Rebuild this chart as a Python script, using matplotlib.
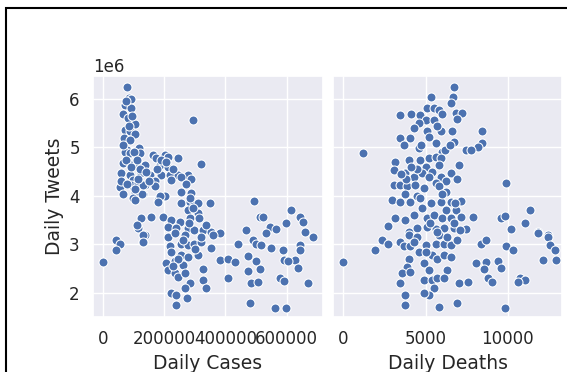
import matplotlib
matplotlib.use("Agg")
import matplotlib.pyplot as plt
import numpy as np
import seaborn as sns
from matplotlib.patches import Rectangle

# daily cases vs daily tweets (tweets in millions)
cases = [
    78400, 83900, 90400, 70800, 92600, 65300, 81700, 103500, 70800, 87000,
    103500, 68600, 87000, 117600, 79500, 294000, 163400, 201500,
    70800, 87000, 119800, 163400, 174000, 212000, 245000, 65300, 92600, 114400,
    136000, 185000, 212000, 321000, 60000, 87000, 125000, 152500, 190600, 218000,
    245000, 278000, 98000, 169000, 223000, 289000, 54500, 92600, 114400, 136000,
    169000, 103500, 130700, 201500, 180000, 256000, 289000, 256000, 283000, 299000,
    310000, 348500, 278000, 310000, 495000, 125000, 158000, 196000, 223000, 250500,
    283000, 114400, 212000, 240000, 278000, 299000, 327000, 354000, 381000, 512000,
    523000, 615000, 642500, 653500, 599000, 544500, 566000, 468000, 659000,
    136000, 212000, 234000, 267000, 359000, 534000, 686000,
    43600, 54500, 43600, 130700, 218000, 256000, 278000, 299000, 321000, 223000,
    256000, 278000, 310000, 354000, 441000, 490000, 501000, 517000, 550000, 588000,
    642500, 642500, 0, 207000, 234000, 261000, 212000, 234000, 245000, 267000,
    327000, 327000, 338000, 283000, 267000, 381000, 408000, 430000, 474000, 501000,
    512000, 474000, 408000, 485000, 506000, 593000, 626000, 604000, 637000, 577000,
    593000, 670000, 223000, 240000, 276000, 240000, 482000, 561000, 599000,
    55500, 66400, 99000, 104500, 126000, 131700, 186000, 180000, 110000, 131700,
    129500, 75000, 95000, 85000, 65000, 100000, 110000, 75000, 90000, 120000,
    60000, 80000, 105000, 115000, 140000, 150000, 175000, 190000, 205000, 230000,
    255000, 270000, 285000, 295000, 315000, 280000, 260000, 300000, 245000, 230000,
    320000, 335000,
]
cases_tweets = [
    6.24, 6.03, 6.01, 5.88, 5.81, 5.70, 5.60, 5.48, 5.36, 5.33,
    5.28, 5.19, 5.15, 4.98, 4.95, 5.57, 4.85, 4.85,
    4.91, 4.88, 4.88, 4.85, 4.78, 4.80, 4.78, 4.67, 4.64, 4.67,
    4.64, 4.64, 4.60, 4.66, 4.47, 4.43, 4.47, 4.43, 4.43, 4.43,
    4.43, 4.43, 4.33, 4.30, 4.33, 4.36, 4.18, 4.23, 4.26, 4.23,
    4.21, 4.09, 4.05, 3.99, 3.92, 4.09, 4.07, 3.86, 3.88, 3.85,
    3.85, 3.86, 3.71, 3.64, 3.90, 3.54, 3.57, 3.57, 3.50, 3.47,
    3.54, 3.33, 3.37, 3.33, 3.33, 3.30, 3.30, 3.26, 3.24, 3.57,
    3.57, 3.71, 3.57, 3.47, 3.44, 3.37, 3.31, 3.30, 3.26,
    3.19, 3.16, 3.23, 3.20, 3.20, 3.23, 3.16,
    3.09, 3.02, 2.89, 3.06, 2.96, 3.02, 2.99, 3.02, 3.06, 2.85,
    2.78, 2.75, 2.78, 2.92, 3.02, 3.09, 3.02, 2.99, 2.92, 2.89,
    2.99, 2.89, 2.63, 2.61, 2.65, 2.58, 2.47, 2.41, 2.34, 2.41,
    2.49, 2.27, 2.10, 2.20, 2.10, 2.69, 2.71, 2.63, 2.76, 2.65,
    2.49, 2.46, 2.30, 2.21, 2.23, 2.69, 2.69, 2.65, 2.51, 2.30,
    2.25, 2.21, 1.99, 1.96, 1.90, 1.75, 1.79, 1.70, 1.70,
    4.19, 4.05, 3.95, 3.92, 4.05, 4.23, 3.99, 3.88, 3.40, 3.20,
    3.06, 5.95, 5.65, 5.45, 5.05, 4.90, 4.75, 4.75, 4.60, 4.55,
    4.30, 4.25, 4.15, 4.35, 4.50, 4.30, 4.55, 4.75, 4.70, 4.55,
    4.40, 4.25, 3.95, 3.75, 3.55, 3.45, 3.10, 2.90, 2.70, 2.55,
    3.15, 3.40,
]

# daily deaths vs daily tweets (tweets in millions)
deaths = [
    6732, 6670, 5304, 6528, 5100, 5508, 5814, 6018, 6875, 7242,
    3468, 4141, 4692, 5000, 5508, 6936, 4590, 4284, 5100, 5916,
    6630, 8425, 5202, 5610, 6732, 3468, 4080, 3672, 4590, 8425,
    8160, 7446, 7752, 6018,
    1224, 3162, 3978, 4692, 5202, 5610, 5916, 5000, 5814, 3060,
    3774, 4284, 4794, 5406, 5916, 6528, 7038, 6936, 3060, 3468,
    3876, 4386, 4896, 5610, 6222, 9894, 3774, 4488, 6222, 2958,
    3468, 4080, 4692, 5304, 5916, 6528, 7140, 6222, 6834, 3162,
    3774, 4284, 5100, 5508, 6018, 6528, 7140, 7854, 9588, 9792,
    11322, 2754, 3978, 4488, 5100, 5610, 6120, 6732, 7446, 10200,
    11016, 11832, 12444,
    2346, 1938, 2754, 3468, 3672, 4080, 4590, 3978, 4488, 5000,
    5610, 6120, 6528, 6936, 5814, 3978, 3876, 3570, 3468, 4080,
    4896, 5406, 5712, 6120, 6528, 6324, 5202, 4896, 5406, 5712,
    6120, 5508, 5202, 4896, 3774, 3733, 5814, 6936, 9792, 0,
    7038, 7548, 8058, 8670, 8568, 8772, 9037, 9384, 9588, 8364,
    8670, 9894, 10302, 10710, 11016, 10608, 11832, 12444, 12546, 12852,
    12138, 12912,
    4500, 5200, 5800, 6000, 4800, 5300, 5700, 6300, 4300, 5000,
    6700, 7100, 6200, 6500, 5700, 3800, 4100, 3500, 4700, 6800,
]
deaths_tweets = [
    6.24, 6.05, 6.05, 5.92, 5.81, 5.81, 5.77, 5.70, 5.72, 5.72,
    5.67, 5.70, 5.67, 5.57, 5.57, 5.58, 5.50, 5.40, 5.33, 5.35,
    5.35, 5.35, 5.22, 5.10, 5.12, 5.19, 5.19, 5.05, 4.98, 5.10,
    5.02, 4.95, 4.95, 4.91,
    4.88, 4.71, 4.74, 4.74, 4.78, 4.81, 4.78, 4.60, 4.64, 4.54,
    4.47, 4.40, 4.47, 4.50, 4.40, 4.47, 4.64, 4.36, 4.23, 4.23,
    4.21, 4.23, 4.16, 4.26, 4.30, 4.26, 4.05, 3.99, 4.09, 3.92,
    3.88, 3.88, 3.95, 3.86, 3.88, 3.88, 3.90, 3.71, 3.71, 3.54,
    3.50, 3.61, 3.54, 3.61, 3.54, 3.54, 3.57, 3.57, 3.54, 3.59,
    3.71, 3.38, 3.26, 3.33, 3.37, 3.31, 3.33, 3.35, 3.31, 3.31,
    3.45, 3.26, 3.20,
    3.09, 2.89, 3.02, 3.06, 2.96, 2.96, 2.85, 3.20, 3.16, 2.99,
    3.02, 3.02, 2.99, 3.09, 3.20, 2.71, 2.54, 2.41, 2.21, 2.44,
    2.61, 2.78, 2.71, 2.78, 2.75, 2.48, 2.48, 2.27, 2.27, 2.30,
    2.30, 2.10, 1.96, 2.00, 1.96, 1.75, 1.72, 1.79, 1.70, 2.63,
    2.21, 2.23, 2.61, 2.63, 2.49, 2.30, 2.23, 2.65, 2.51, 3.02,
    3.09, 2.96, 2.89, 2.30, 2.27, 2.23, 3.23, 3.16, 2.99, 2.89,
    2.69, 2.69,
    4.55, 4.40, 4.20, 4.05, 3.75, 3.45, 3.25, 3.15, 3.05, 2.85,
    3.45, 3.30, 4.95, 5.05, 5.45, 4.35, 4.60, 4.45, 5.05, 3.85,
]

sns.set_theme(style="darkgrid")
plt.rcParams["font.family"] = ["DejaVu Sans"]
plt.rcParams["axes.labelsize"] = 13.5
plt.rcParams["xtick.labelsize"] = 12
plt.rcParams["ytick.labelsize"] = 12

W, H = 567, 372
fig = plt.figure(figsize=(W / 100, H / 100), dpi=100)
fig.patch.set_facecolor("white")

ax1 = fig.add_axes([93 / W, 55 / H, 230 / W, 241 / H])
ax2 = fig.add_axes([333 / W, 55 / H, 229 / W, 241 / H], sharey=ax1)

dot = dict(s=42, color="#4C72B0", edgecolor="white", linewidth=0.75)
ax1.scatter(cases, np.array(cases_tweets) * 1e6, **dot)
ax2.scatter(deaths, np.array(deaths_tweets) * 1e6, **dot)

ax1.set_xlim(-32700, 719000)
ax2.set_xlim(-612, 13280)
ax1.set_ylim(1.505e6, 6.474e6)
ax1.set_xticks([0, 200000, 400000, 600000])
ax2.set_xticks([0, 5000, 10000])
ax1.set_yticks([2e6, 3e6, 4e6, 5e6, 6e6])

ax1.set_xlabel("Daily Cases")
ax2.set_xlabel("Daily Deaths")
ax1.set_ylabel("Daily Tweets")
ax2.tick_params(labelleft=False)

# screenshot frame (left and top edges only visible)
fig.add_artist(Rectangle((6 / W, -0.2), 1.5, (H - 8) / H + 0.2,
                         transform=fig.transFigure, fill=False,
                         edgecolor="black", linewidth=1.5, clip_on=False))

fig.savefig("out.png", dpi=100)
